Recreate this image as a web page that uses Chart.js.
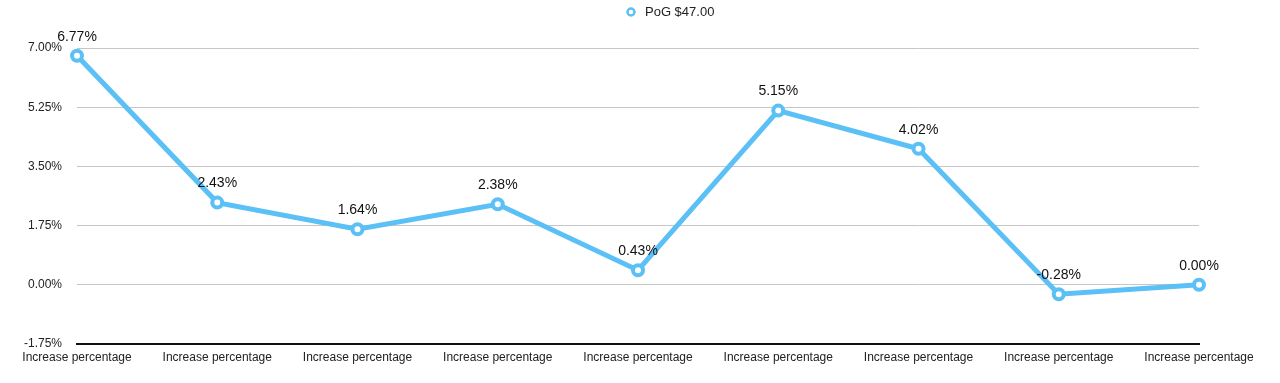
<!DOCTYPE html>
<html>
<head>
<meta charset="utf-8">
<script src="https://cdn.jsdelivr.net/npm/chart.js@4"></script>
<style>
html,body{margin:0;padding:0;background:#fff;}
#wrap{width:1280px;height:383px;position:relative;}
</style>
</head>
<body>
<div id="wrap"><canvas id="c"></canvas></div>
<script>
const categories = ["Increase percentage","Increase percentage","Increase percentage","Increase percentage","Increase percentage","Increase percentage","Increase percentage","Increase percentage","Increase percentage"];
const seriesName = "PoG $47.00";
const values = [6.77, 2.43, 1.64, 2.38, 0.43, 5.15, 4.02, -0.28, 0.00];
const yTicks = [-1.75, 0, 1.75, 3.5, 5.25, 7];

const lineColor = '#5BC0F6';
const fontFamily = '"Liberation Sans", Arial, Helvetica, sans-serif';

const valueLabels = {
  id: 'valueLabels',
  afterDatasetsDraw(chart) {
    const ctx = chart.ctx;
    const meta = chart.getDatasetMeta(0);
    ctx.save();
    ctx.font = '14px ' + fontFamily;
    ctx.fillStyle = '#111';
    ctx.textAlign = 'center';
    ctx.textBaseline = 'middle';
    meta.data.forEach((pt, i) => {
      ctx.fillText(values[i].toFixed(2) + '%', pt.x, pt.y - 19);
    });
    ctx.restore();
  }
};

const topLegend = {
  id: 'topLegend',
  afterDraw(chart) {
    const ctx = chart.ctx;
    const ds = chart.data.datasets[0];
    ctx.save();
    ctx.beginPath();
    ctx.arc(631, 12, 3.5, 0, Math.PI * 2);
    ctx.fillStyle = '#fff';
    ctx.fill();
    ctx.lineWidth = 2.5;
    ctx.strokeStyle = ds.borderColor;
    ctx.stroke();
    ctx.font = '13px ' + fontFamily;
    ctx.fillStyle = '#222';
    ctx.textAlign = 'left';
    ctx.textBaseline = 'middle';
    ctx.fillText(ds.label, 645, 12);
    ctx.restore();
  }
};

new Chart(document.getElementById('c'), {
  type: 'line',
  data: {
    labels: categories,
    datasets: [{
      label: seriesName,
      data: values,
      borderColor: lineColor,
      backgroundColor: '#fff',
      borderWidth: 5,
      pointRadius: 5,
      pointBorderWidth: 4,
      pointBackgroundColor: '#fff',
      pointBorderColor: lineColor,
      tension: 0
    }]
  },
  options: {
    responsive: true,
    maintainAspectRatio: false,
    animation: false,
    layout: { padding: { top: 48, right: 81, left: 0, bottom: 0 } },
    plugins: {
      legend: { display: false },
      tooltip: { enabled: false }
    },
    scales: {
      x: {
        offset: false,
        grid: { display: false, drawTicks: false },
        border: { display: true, color: '#111', width: 2 },
        ticks: {
          font: { size: 12, family: fontFamily },
          color: '#222',
          padding: 6,
          maxRotation: 0,
          autoSkip: false
        },
        afterFit(scale) { scale.height = 39; }
      },
      y: {
        min: yTicks[0],
        max: yTicks[yTicks.length - 1],
        afterBuildTicks(scale) { scale.ticks = yTicks.map(v => ({ value: v })); },
        grid: { color: '#c6c6c6', lineWidth: 1, drawTicks: false },
        border: { display: false },
        ticks: {
          font: { size: 12, family: fontFamily },
          color: '#222',
          padding: 15,
          callback: v => Number(v).toFixed(2) + '%'
        },
        afterFit(scale) { scale.width = 77; }
      }
    }
  },
  plugins: [valueLabels, topLegend]
});
</script>
</body>
</html>
